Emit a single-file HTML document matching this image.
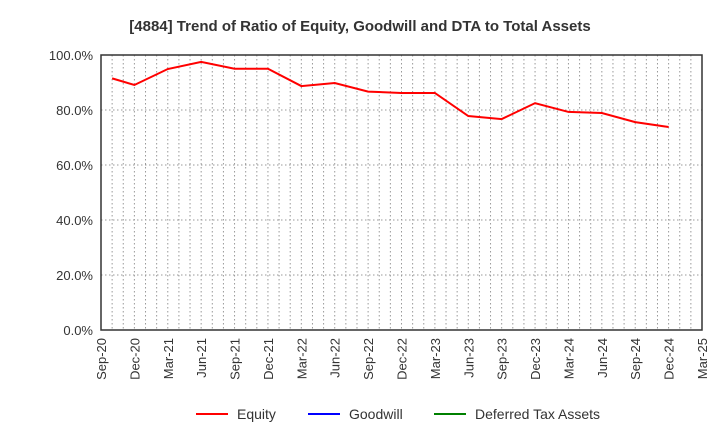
<!DOCTYPE html>
<html><head><meta charset="utf-8"><style>
body{margin:0;background:#fff;font-family:"Liberation Sans",sans-serif}
svg text{font-family:"Liberation Sans",sans-serif}
</style></head><body>
<svg width="720" height="440" xmlns="http://www.w3.org/2000/svg">
<text x="360" y="31" text-anchor="middle" font-size="15" font-weight="bold" fill="#333">[4884]  Trend of Ratio of Equity, Goodwill and DTA to Total Assets</text>
<g id="grid"></g>
<g id="axes"></g>
<g id="series"></g>
<g>
<line x1="196" y1="414" x2="228" y2="414" stroke="#ff0000" stroke-width="2"/><text x="237" y="419" font-size="14" fill="#333">Equity</text>
<line x1="308" y1="414" x2="340" y2="414" stroke="#0000ff" stroke-width="2"/><text x="349" y="419" font-size="14" fill="#333">Goodwill</text>
<line x1="434" y1="414" x2="466" y2="414" stroke="#008000" stroke-width="2"/><text x="475" y="419" font-size="14" fill="#333">Deferred Tax Assets</text>
</g>
</svg>
<script>
const xLabels=["Sep-20","Dec-20","Mar-21","Jun-21","Sep-21","Dec-21","Mar-22","Jun-22","Sep-22","Dec-22","Mar-23","Jun-23","Sep-23","Dec-23","Mar-24","Jun-24","Sep-24","Dec-24","Mar-25"];
const yTicks=[0,20,40,60,80,100];
const equityMonths=[1,3,6,9,12,15,18,21,24,27,30,33,36,39,42,45,48,51];
const equityValues=[91.5,89.1,94.9,97.5,95.0,95.0,88.7,89.8,86.7,86.2,86.2,77.8,76.7,82.5,79.3,78.9,75.6,73.8];
const L=101,R=702,T=55,B=330,NM=54;
const xs=m=>L+(R-L)*m/NM, ys=v=>B-(B-T)*v/100;
const ns="http://www.w3.org/2000/svg";
function mk(p,t,a){const e=document.createElementNS(ns,t);for(const k in a)e.setAttribute(k,a[k]);p.appendChild(e);return e;}
const g=document.getElementById('grid'),ax=document.getElementById('axes'),s=document.getElementById('series');
for(let m=1;m<NM;m++){const l=mk(g,'line',{x1:xs(m),x2:xs(m),y1:T,y2:B,stroke:'#999','stroke-dasharray':'1.5,2.5'});

}
yTicks.forEach(v=>{if(v>0){const l=mk(g,'line',{x1:L,x2:R,y1:ys(v),y2:ys(v),stroke:'#999','stroke-dasharray':'1.5,2.5'});

}
const t=mk(ax,'text',{x:L-8,y:ys(v)+5,'text-anchor':'end','font-size':'13',fill:'#333'});t.textContent=v.toFixed(1)+'%';

});
const r=mk(ax,'rect',{x:L,y:T,width:R-L,height:B-T,fill:'none',stroke:'#333','stroke-width':1.5});


xLabels.forEach((lb,i)=>{const x=xs(i*3);const t=mk(ax,'text',{x:x+5,y:B+8,'text-anchor':'end','font-size':'13',fill:'#333',transform:`rotate(-90 ${x+5} ${B+8})`});t.textContent=lb;

});
const pl=mk(s,'polyline',{points:equityMonths.map((m,i)=>xs(m)+','+ys(equityValues[i])).join(' '),fill:'none',stroke:'#ff0000','stroke-width':2});


</script>
</body></html>
